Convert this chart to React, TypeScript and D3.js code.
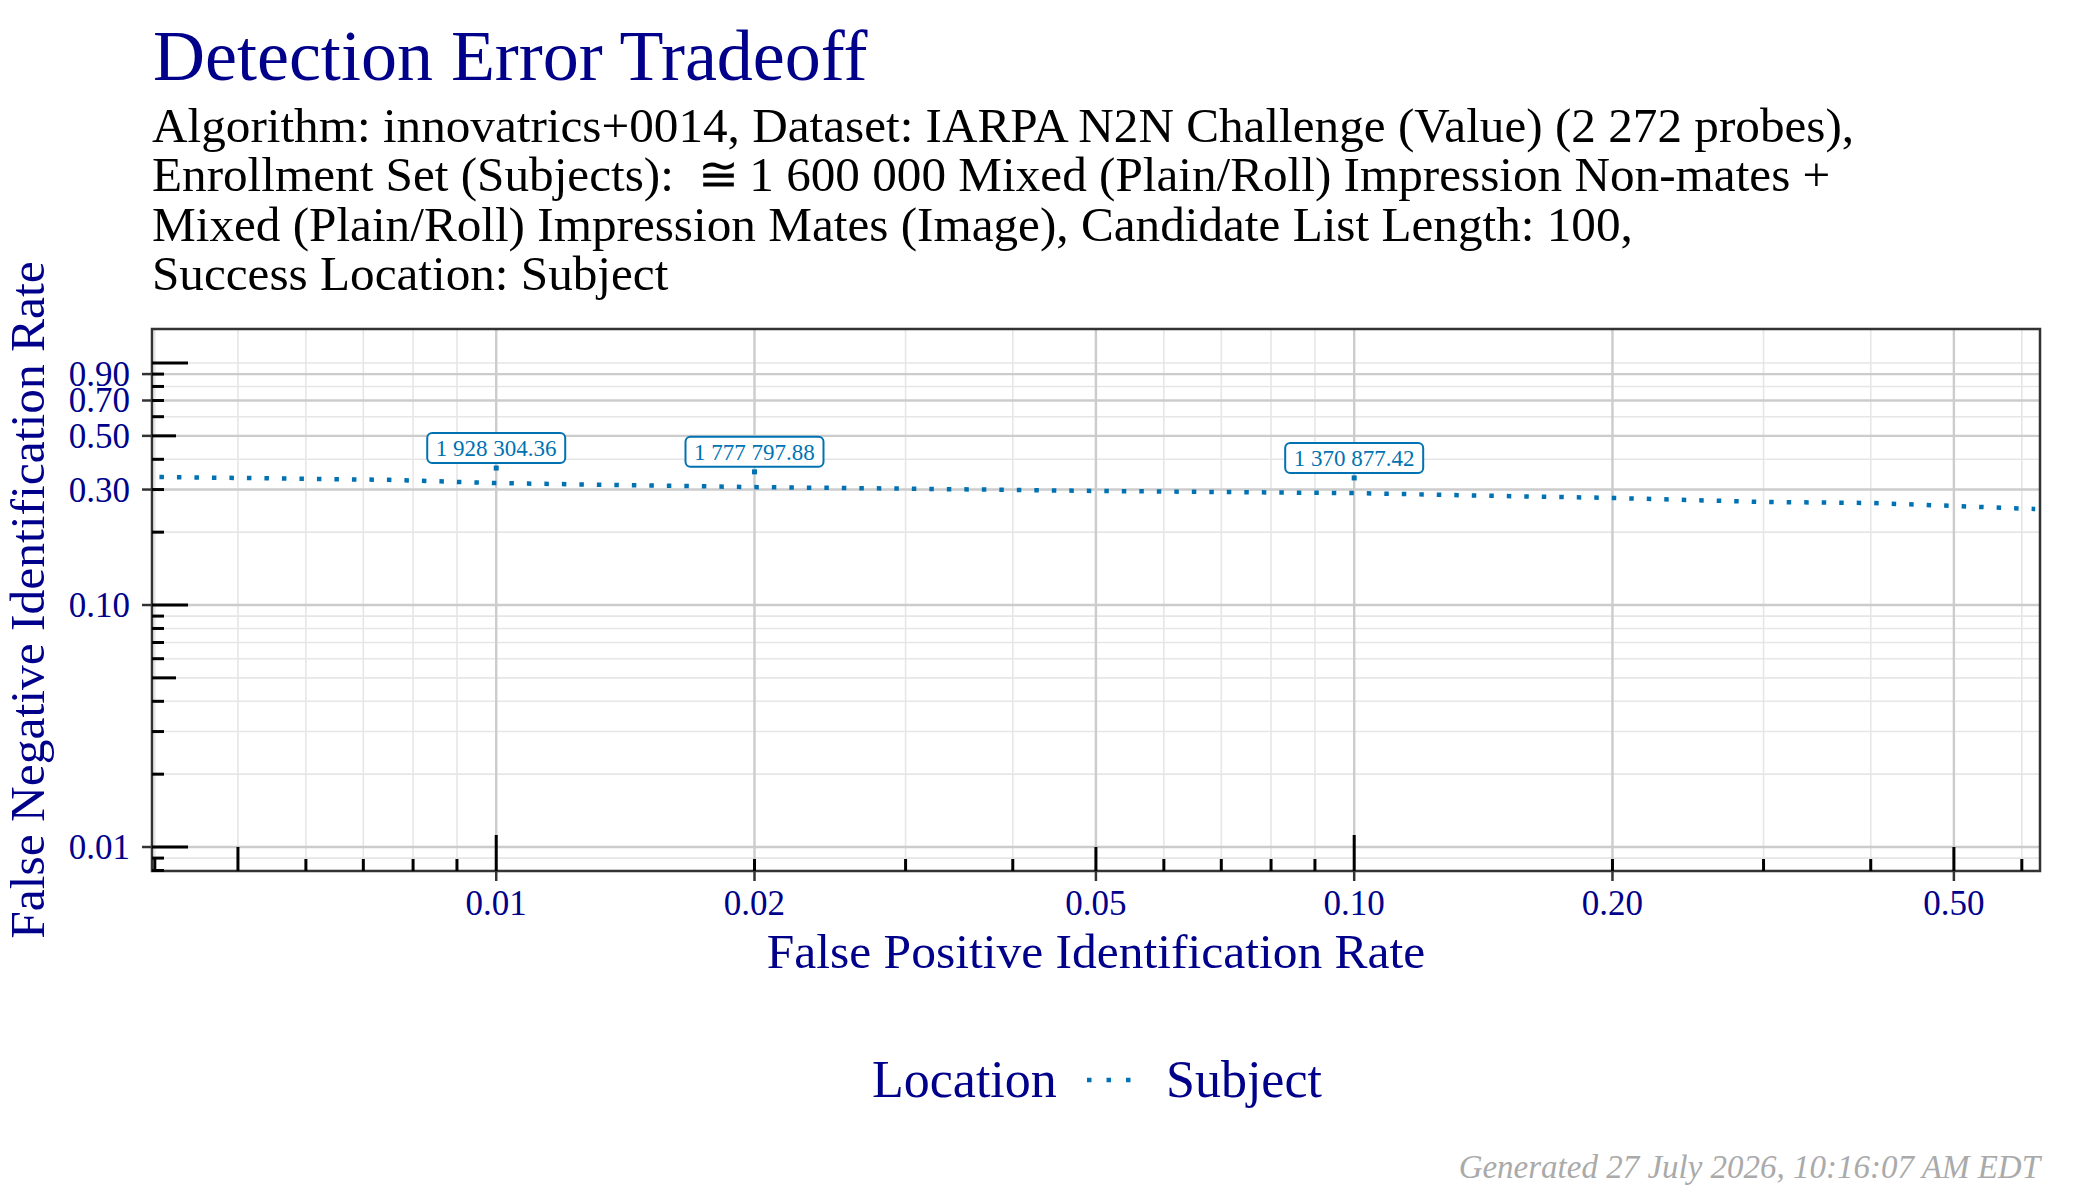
import React from "react";
import * as d3 from "d3";

// ---- data ----
const FPIR = [0.00405, 0.005, 0.0075, 0.01, 0.02, 0.0265, 0.04, 0.05, 0.07, 0.1, 0.15, 0.2, 0.3, 0.4, 0.5, 0.622];
const FNIR = [0.338, 0.335, 0.329, 0.319, 0.307, 0.304, 0.299, 0.296, 0.293, 0.29, 0.282, 0.277, 0.2665, 0.264, 0.2566, 0.2493];

const THRESH_FPIR = [0.01, 0.02, 0.1];
const THRESH_FNIR = [0.368, 0.355, 0.335];
const THRESH_LABELS = ["1 928 304.36", "1 777 797.88", "1 370 877.42"];

const X_BREAKS = [0.01, 0.02, 0.05, 0.1, 0.2, 0.5];
const X_LABELS = ["0.01", "0.02", "0.05", "0.10", "0.20", "0.50"];
const Y_BREAKS = [0.01, 0.1, 0.3, 0.5, 0.7, 0.9];
const Y_LABELS = ["0.01", "0.10", "0.30", "0.50", "0.70", "0.90"];

const TITLE = "Detection Error Tradeoff";
const SUBTITLE = [
  "Algorithm: innovatrics+0014, Dataset: IARPA N2N Challenge (Value) (2 272 probes),",
  "Enrollment Set (Subjects):  \u2245\u20091 600 000 Mixed (Plain/Roll) Impression Non-mates +",
  "Mixed (Plain/Roll) Impression Mates (Image), Candidate List Length: 100,",
  "Success Location: Subject",
];
const X_TITLE = "False Positive Identification Rate";
const Y_TITLE = "False Negative Identification Rate";
const LEGEND_TITLE = "Location";
const LEGEND_ITEM = "Subject";
const FOOTER = "Generated 27 July 2026, 10:16:07 AM EDT";

const X_DOMAIN = [0.00397, 0.63];
const Y_DOMAIN = [0.00796, 1.382];

// ---- layout ----
const W = 2100;
const H = 1200;
const L = 152;
const R = 2040;
const T = 329;
const B = 871;
const FONT = "'Liberation Serif', 'Times New Roman', serif";
const NAVY = "#00008B";
const BLUE = "#0072B2";

function logTicks(domain: number[]) {
  const out: { v: number; kind: number }[] = [];
  for (let e = -4; e <= 1; e++) {
    for (let k = 1; k <= 9; k++) {
      const v = k * Math.pow(10, e);
      if (v >= domain[0] * 0.999 && v <= domain[1] * 1.001) {
        out.push({ v, kind: k === 1 ? 2 : k === 5 ? 1 : 0 });
      }
    }
  }
  return out;
}

export default function App() {
  const x = d3.scaleLog().domain(X_DOMAIN).range([L, R]);
  const y = d3.scaleLog().domain(Y_DOMAIN).range([B, T]);

  const xl = logTicks(X_DOMAIN);
  const yl = logTicks(Y_DOMAIN);
  const near = (a: number, b: number) => Math.abs(Math.log10(a) - Math.log10(b)) < 1e-6;
  const xMinor = xl.filter((t) => !X_BREAKS.some((b) => near(b, t.v)));
  const yMinor = yl.filter((t) => !Y_BREAKS.some((b) => near(b, t.v)));

  const pts = FPIR.map((f, i) => [f, FNIR[i]] as [number, number]);
  const line = d3
    .line<[number, number]>()
    .x((d) => x(d[0]))
    .y((d) => y(d[1]))
    .curve(d3.curveLinear);

  const tickLen = [12, 24, 36];

  return (
    <svg
      width={W}
      height={H}
      viewBox={`0 0 ${W} ${H}`}
      style={{ position: "absolute", left: 0, top: 0, background: "#fff" }}
      fontFamily={FONT}
    >
      <rect x={0} y={0} width={W} height={H} fill="#fff" />
      <defs>
        <clipPath id="panel">
          <rect x={L} y={T} width={R - L} height={B - T} />
        </clipPath>
      </defs>

      {/* title + subtitle */}
      <text x={153} y={80} fontSize={72} fill={NAVY}>
        {TITLE}
      </text>
      {SUBTITLE.map((s, i) => (
        <text key={i} x={152} y={142 + i * 49.3} fontSize={49.2} fill="#000" style={{ whiteSpace: "pre" }}>
          {s}
        </text>
      ))}

      {/* grid */}
      <g>
        {xMinor.map((t, i) => (
          <line key={"xm" + i} x1={x(t.v)} x2={x(t.v)} y1={T} y2={B} stroke="#e6e6e6" strokeWidth={1.6} />
        ))}
        {yMinor.map((t, i) => (
          <line key={"ym" + i} x1={L} x2={R} y1={y(t.v)} y2={y(t.v)} stroke="#e6e6e6" strokeWidth={1.6} />
        ))}
        {X_BREAKS.map((b, i) => (
          <line key={"xM" + i} x1={x(b)} x2={x(b)} y1={T} y2={B} stroke="#cccccc" strokeWidth={2.4} />
        ))}
        {Y_BREAKS.map((b, i) => (
          <line key={"yM" + i} x1={L} x2={R} y1={y(b)} y2={y(b)} stroke="#cccccc" strokeWidth={2.4} />
        ))}
      </g>

      {/* data line */}
      <g clipPath="url(#panel)">
        <path
          d={line(pts) || ""}
          fill="none"
          stroke={BLUE}
          strokeWidth={4.5}
          strokeDasharray="4.5,13"
          strokeLinecap="butt"
        />
      </g>

      {/* threshold annotations */}
      {THRESH_FPIR.map((f, i) => {
        const px = x(f);
        const py = y(THRESH_FNIR[i]);
        const bw = 138;
        const bh = 30;
        return (
          <g key={"th" + i}>
            <rect x={px - 2.5} y={py - 2.5} width={5} height={5} fill={BLUE} />
            <rect
              x={px - bw / 2}
              y={py - 5 - bh}
              width={bw}
              height={bh}
              rx={5}
              ry={5}
              fill="#fff"
              stroke={BLUE}
              strokeWidth={2}
            />
            <text x={px} y={py - 12} fontSize={23} fill={BLUE} textAnchor="middle">
              {THRESH_LABELS[i]}
            </text>
          </g>
        );
      })}

      {/* panel border */}
      <rect x={L} y={T} width={R - L} height={B - T} fill="none" stroke="#333" strokeWidth={2.5} />

      {/* axis ticks (outside) */}
      {X_BREAKS.map((b, i) => (
        <line key={"xt" + i} x1={x(b)} x2={x(b)} y1={B} y2={B + 10} stroke="#333" strokeWidth={2.5} />
      ))}
      {Y_BREAKS.map((b, i) => (
        <line key={"yt" + i} x1={L - 10} x2={L} y1={y(b)} y2={y(b)} stroke="#333" strokeWidth={2.5} />
      ))}

      {/* log ticks (inside) */}
      {xl.map((t, i) => (
        <line
          key={"xlt" + i}
          x1={x(t.v)}
          x2={x(t.v)}
          y1={B}
          y2={B - tickLen[t.kind]}
          stroke="#000"
          strokeWidth={3}
        />
      ))}
      {yl.map((t, i) => (
        <line
          key={"ylt" + i}
          x1={L}
          x2={L + tickLen[t.kind]}
          y1={y(t.v)}
          y2={y(t.v)}
          stroke="#000"
          strokeWidth={3}
        />
      ))}

      {/* tick labels */}
      {X_BREAKS.map((b, i) => (
        <text key={"xlb" + i} x={x(b)} y={915} fontSize={35} fill={NAVY} textAnchor="middle">
          {X_LABELS[i]}
        </text>
      ))}
      {Y_BREAKS.map((b, i) => (
        <text key={"ylb" + i} x={130} y={y(b) + 12} fontSize={35} fill={NAVY} textAnchor="end">
          {Y_LABELS[i]}
        </text>
      ))}

      {/* axis titles */}
      <text x={(L + R) / 2} y={968} fontSize={49.5} fill={NAVY} textAnchor="middle">
        {X_TITLE}
      </text>
      <text
        transform={`translate(44, ${(T + B) / 2}) rotate(-90)`}
        fontSize={49.5}
        fill={NAVY}
        textAnchor="middle"
      >
        {Y_TITLE}
      </text>

      {/* legend */}
      <text x={872} y={1097} fontSize={52} fill={NAVY}>
        {LEGEND_TITLE}
      </text>
      <line
        x1={1087}
        x2={1133}
        y1={1080}
        y2={1080}
        stroke={BLUE}
        strokeWidth={4.5}
        strokeDasharray="4.5,15"
      />
      <text x={1166} y={1097} fontSize={52} fill={NAVY}>
        {LEGEND_ITEM}
      </text>

      {/* footer */}
      <text x={2040} y={1178} fontSize={33} fill="#aaaaaa" fontStyle="italic" textAnchor="end">
        {FOOTER}
      </text>
    </svg>
  );
}
